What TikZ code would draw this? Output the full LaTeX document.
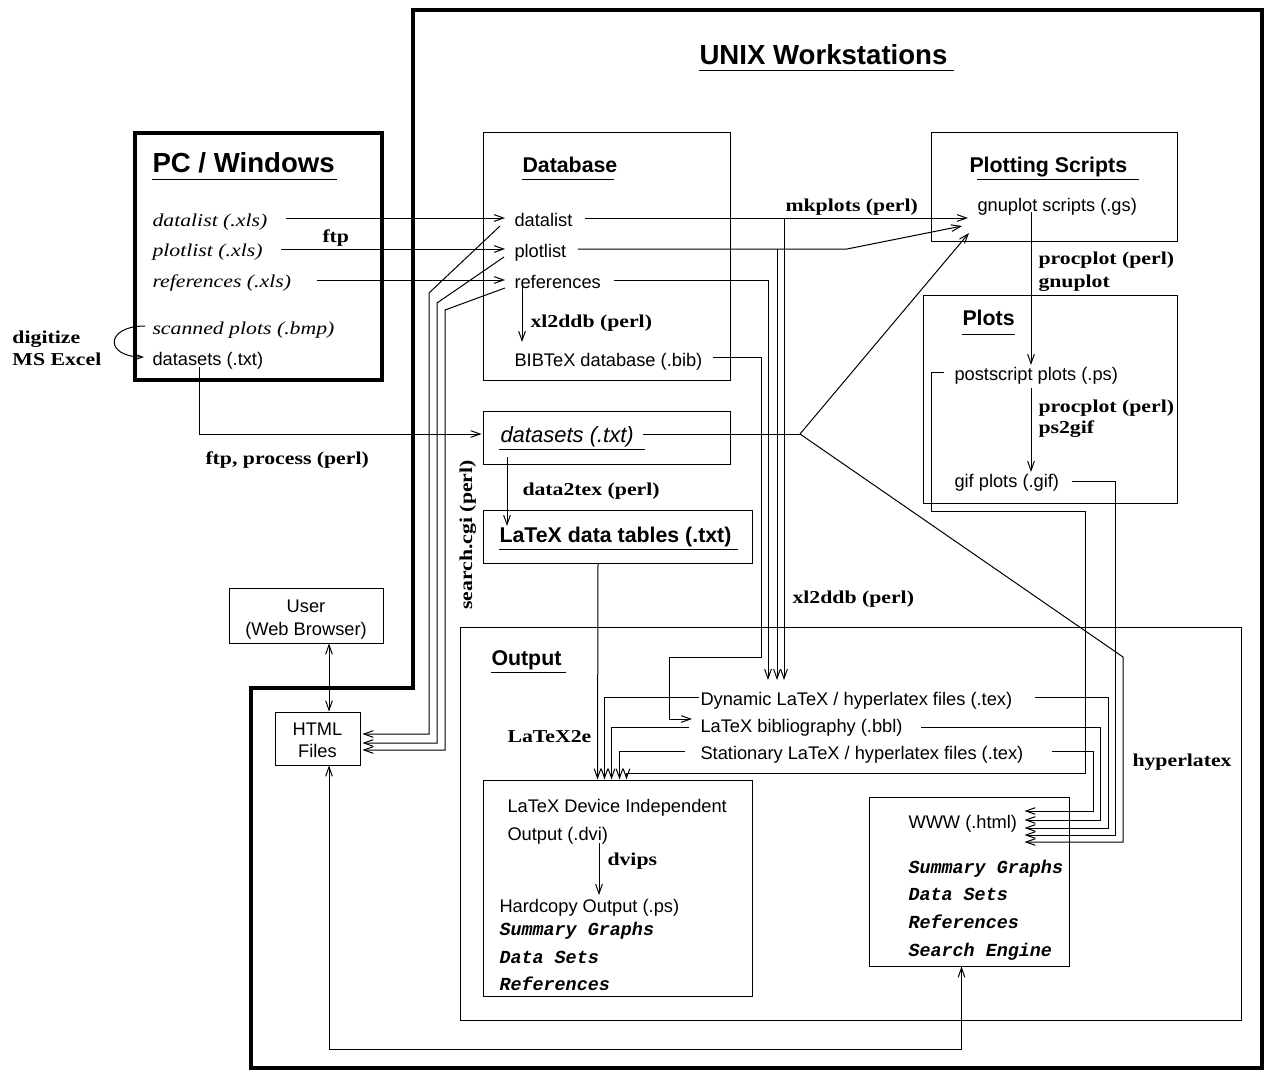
\documentclass[tikz,border=0pt]{standalone}
\usepackage{fontspec}
\setmainfont{Liberation Serif}
\setsansfont{Liberation Sans}
\setmonofont{Liberation Mono}
\newfontfamily\serifw[FakeStretch=1.2]{Liberation Serif}
\usetikzlibrary{arrows.meta,calc,fit}
\begin{document}
\begin{tikzpicture}[x=0.75pt,y=-0.75pt,line width=0.75pt,
  >={Straight Barb[length=7pt,width=5pt]},
  sans/.style={font=\sffamily\fontsize{13.7}{16}\selectfont,anchor=base west,inner sep=0pt},
  sansc/.style={sans,anchor=base},
  ttl/.style={font=\sffamily\bfseries\fontsize{16}{19}\selectfont,anchor=base west,inner sep=0pt},
  bigttl/.style={font=\sffamily\bfseries\fontsize{20.7}{24}\selectfont,anchor=base west,inner sep=0pt},
  dsit/.style={font=\sffamily\itshape\fontsize{16.5}{19}\selectfont,anchor=base west,inner sep=0pt},
  itl/.style={font=\serifw\itshape\fontsize{13.6}{16}\selectfont,anchor=base west,inner sep=0pt},
  lbl/.style={font=\serifw\bfseries\fontsize{13.6}{16}\selectfont,anchor=base west,inner sep=0pt},
  mono/.style={font=\ttfamily\bfseries\itshape\fontsize{13.8}{16}\selectfont,anchor=base west,inner sep=0pt},
  box/.style={draw,inner sep=0pt},
  heavybox/.style={draw,inner sep=0pt,line width=2.4pt},
  heavy/.style={line width=2.4pt}]
\useasboundingbox (0,0) rectangle (1268,1074);

% ---------- UNIX outline ----------
\draw[heavy] (413,10) -- (1262,10) -- (1262,1068) -- (251,1068) -- (251,688) -- (413,688) -- cycle;
\node[bigttl] (unixt) at (699,65) {UNIX Workstations};
\draw (699,71) -- (954,71);

% ---------- PC / Windows ----------
\node[heavybox, fit={(135,133)(382,380)}] (pcbox) {};
\node[bigttl] (pct) at (152,172) {PC / Windows};
\draw (152,179) -- (337,179);
\node[itl] (pcdl) at (152,226) {datalist (.xls)};
\node[itl] (pcpl) at (152,256) {plotlist (.xls)};
\node[itl] (pcrf) at (152,287) {references (.xls)};
\node[itl] (pcsc) at (152,334) {scanned plots (.bmp)};
\node[sans] (pcds) at (152,365) {datasets (.txt)};

% ---------- Database ----------
\node[box, fit={(483,133)(730,380)}] (dbbox) {};
\node[ttl] (dbt) at (522,172) {Database};
\draw (522,179) -- (614,179);
\node[sans] (dbdl) at (514,226) {datalist};
\node[sans] (dbpl) at (514,257) {plotlist};
\node[sans] (dbrf) at (514,288) {references};
\node[sans] (dbbib) at (514,366) {BIBTeX database (.bib)};

% ---------- Plotting scripts ----------
\node[box, fit={(931,133)(1177,241)}] (psbox) {};
\node[ttl] (pst) at (969,172) {Plotting Scripts};
\draw (977,179) -- (1139,179);
\node[sans] (gs) at (977,211) {gnuplot scripts (.gs)};

% ---------- Plots ----------
\node[box, fit={(923,295)(1177,503)}] (plbox) {};
\node[ttl] (plt) at (962,325) {Plots};
\draw (962,334) -- (1015,334);
\node[sans] (psp) at (954,380) {postscript plots (.ps)};
\node[sans] (gif) at (954,487) {gif plots (.gif)};

% ---------- datasets / tables ----------
\node[box, fit={(483,411)(730,464)}] (dsbox) {};
\node[dsit] (dst) at (500,442) {datasets (.txt)};
\draw (499,449) -- (645,449);
\node[box, fit={(483,510)(752,563)}] (tabbox) {};
\node[ttl] (tabt) at (499,542) {LaTeX data tables (.txt)};
\draw (499,549) -- (738,549);

% ---------- User / HTML ----------
\node[box, minimum width=115.5pt, minimum height=41.25pt] (user) at (306,615.5) {};
\node[sansc] (usert1) at (306,612) {User};
\node[sansc] (usert2) at (306,635) {(Web Browser)};
\node[box, minimum width=63.75pt, minimum height=39.75pt] (html) at (317.5,738.5) {};
\node[sansc] (htmlt1) at (317.5,735) {HTML};
\node[sansc] (htmlt2) at (317.5,757) {Files};

% ---------- Output ----------
\node[box, fit={(460,627)(1241,1020)}] (outbox) {};
\node[ttl] (outt) at (491,665) {Output};
\draw (491,672) -- (566,672);
\node[sans] (dyn) at (700,705) {Dynamic LaTeX / hyperlatex files (.tex)};
\node[sans] (bbl) at (700,732) {LaTeX bibliography (.bbl)};
\node[sans] (stat) at (700,759) {Stationary LaTeX / hyperlatex files (.tex)};

\node[box, fit={(483,780)(752,996)}] (dvibox) {};
\node[sans] (dvi1) at (507,812) {LaTeX Device Independent};
\node[sans] (dvi2) at (507,840) {Output (.dvi)};
\node[sans] (hard) at (499,912) {Hardcopy Output (.ps)};
\node[mono] (dvis1) at (499,935) {Summary Graphs};
\node[mono] (dvis2) at (499,963) {Data Sets};
\node[mono] (dvis3) at (499,990) {References};

\node[box, fit={(869,797)(1069,966)}] (wwwbox) {};
\node[sans] (wwwt) at (908,828) {WWW (.html)};
\node[mono] (www1) at (908,873) {Summary Graphs};
\node[mono] (www2) at (908,900) {Data Sets};
\node[mono] (www3) at (908,928) {References};
\node[mono] (www4) at (908,956) {Search Engine};

% ---------- labels ----------
\node[lbl] (lftp) at (322,242) {ftp};
\node[lbl] (ldig) at (12,343) {digitize};
\node[lbl] (lmsx) at (12,365) {MS Excel};
\node[lbl] (lmk) at (785,211) {mkplots (perl)};
\node[lbl] (lxa) at (530,327) {xl2ddb (perl)};
\node[lbl] (lpp1) at (1038,264) {procplot (perl)};
\node[lbl] (lgnu) at (1038,287) {gnuplot};
\node[lbl] (lpp2) at (1038,412) {procplot (perl)};
\node[lbl] (lp2g) at (1038,433) {ps2gif};
\node[lbl] (lftpp) at (205,464) {ftp, process (perl)};
\node[lbl,rotate=90] (lsrch) at (472,610) {search.cgi (perl)};
\node[lbl] (ld2t) at (522,495) {data2tex (perl)};
\node[lbl] (lxb) at (792,603) {xl2ddb (perl)};
\node[lbl] (lltx) at (507,742) {LaTeX2e};
\node[lbl] (lhyp) at (1132,766) {hyperlatex};
\node[lbl] (ldvips) at (607,865) {dvips};

% ---------- junctions ----------
\coordinate (jdl) at (784,218);
\coordinate (jpl) at (777,249);
\coordinate (split) at (800,434);

% ---------- connectors ----------
% PC -> Database (ftp)
\draw[->] ($(pcdl.base east)+(18,-8)$) -- ($(dbdl.base west)+(-9,-8)$);
\draw[->] ($(pcpl.base east)+(18,-7)$) -- ($(dbpl.base west)+(-9,-8)$);
\draw[->] ($(pcrf.base east)+(25,-7)$) -- ($(dbrf.base west)+(-9,-8)$);
% digitize
\draw[->] ($(pcsc.base west)+(-7,-8)$) .. controls +(-40,0) and +(-40,0) .. ($(pcds.base west)+(-8,-8)$);
% ftp, process
\draw[->] ($(pcds.base west)+(47,2)$) |- ($(dsbox.west)+(-1,-3.5)$);
% xl2ddb in database
\draw[->] ($(dbrf.base west)+(8,-3)$) -- ($(dbbib.base west)+(8,-24)$);
% search.cgi to HTML
\draw[->] ($(dbdl.base west)+(-14,0)$) -- (429,293) |- ($(html.east)+(2,-4.5)$);
\draw[->] ($(dbpl.base west)+(-10,0)$) -- (437,303) |- ($(html.east)+(2,4.5)$);
\draw[->] ($(dbrf.base west)+(-9,0)$) -- (445,310) |- ($(html.east)+(2,11.5)$);
% mkplots
\draw[->] ($(dbdl.base east)+(12,-8)$) -- ($(gs.base west)+(-9,7)$);
\draw[->] ($(dbpl.base east)+(11,-8)$) -- (847,249) -- ($(gs.base west)+(-15,15)$);
% xl2ddb to output
\draw[->] (jdl) -- ($(dyn.base west)+(84,-25)$);
\draw[->] (jpl) -- ($(dyn.base west)+(77,-25)$);
\draw[->] ($(dbrf.base east)+(13,-8)$) -| ($(dyn.base west)+(68,-25)$);
\draw[->] ($(dbbib.base east)+(10,-9)$) -| (761,657) -- (669,657) |- ($(bbl.base west)+(-8,-13)$);
% datasets split
\draw ($(dst.base east)+(9,-8)$) -- (split);
\draw[->] (split) -- ($(gs.base west)+(-8,22)$);
\draw[->] (split) -- (1123,657) |- ($(wwwt.base east)+(7,14)$);
% data2tex
\draw[->] ($(dst.base west)+(7,15)$) -- ($(tabt.base west)+(8,-16)$);
% procplot
\draw[->] ($(gs.base west)+(54,1)$) -- ($(psp.base west)+(77,-15)$);
\draw[->] ($(psp.base west)+(77,8)$) -- ($(gif.base west)+(77,-15)$);
% postscript -> dvi
\draw[->] ($(psp.base west)+(-10,-8)$) -| (931,511) -| (1085,773) -| ($(dvibox.north west)+(144,0)$);
% gif -> www
\draw[->] ($(gif.base east)+(12,-6)$) -- (1115,481) |- ($(wwwt.base east)+(7,7)$);
% LaTeX2e
\draw[->] ($(tabbox.south)+(-19.5,0)$) -- ($(dvibox.north west)+(115,0)$);
\draw[->] ($(dyn.base west)+(-1,-8)$) -| ($(dvibox.north west)+(122,0)$);
\draw[->] ($(bbl.base west)+(-11,-5)$) -| ($(dvibox.north west)+(129,0)$);
\draw[->] ($(stat.base west)+(-15,-8)$) -| ($(dvibox.north west)+(137,0)$);
% hyperlatex
\draw[->] ($(dyn.base east)+(22,-8)$) -- (1108,697) |- ($(wwwt.base east)+(7,0)$);
\draw[->] ($(bbl.base east)+(18,-5)$) -- (1100,727) |- ($(wwwt.base east)+(7,-8)$);
\draw[->] ($(stat.base east)+(28,-8)$) -- (1093,751) |- ($(wwwt.base east)+(7,-17)$);
% dvips
\draw[->] ($(dvi2.base west)+(92,3)$) -- ($(hard.base west)+(100,-17)$);
% user / html / www
\draw[<->] ($(user.south)+(23,0)$) -- ($(html.north)+(11.5,0)$);
\draw[<->] ($(html.south)+(11.5,0)$) -- ++(0,284) -| ($(wwwbox.south west)+(93,0)$);
\end{tikzpicture}
\end{document}
